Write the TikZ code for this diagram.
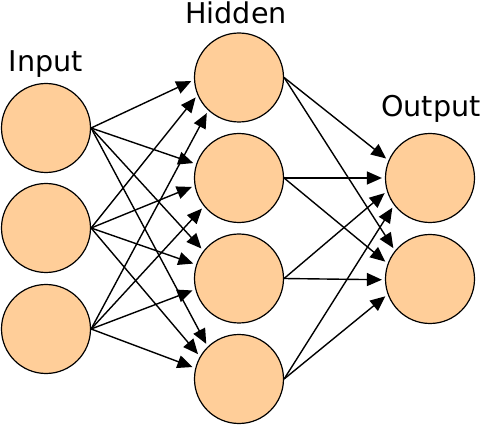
\documentclass[tikz,border=0pt]{standalone}
\usepackage{fontspec}
\setmainfont{DejaVu Sans}
\usepackage{xcolor}
\usepackage{tikz}
\usetikzlibrary{arrows.meta,positioning}
\definecolor{neuronFill}{RGB}{255,206,153}
\tikzset{
  neuron/.style={circle, draw=black, line width=1.2pt, fill=neuronFill, minimum size=89pt, inner sep=0pt},
  layerlabel/.style={anchor=base, font=\fontsize{28.6}{30}\selectfont},
  link/.style={-{Triangle[length=15pt,width=13pt]}, line width=1.4pt, shorten >=3pt}
}

\begin{document}
\begin{tikzpicture}[x=1pt,y=-1pt]
\useasboundingbox (0,0) rectangle (480,425);
% layers
\node[neuron] (in1) at (46,128) {};
\node[neuron] (in2) at (46,228) {};
\node[neuron] (in3) at (46,329) {};
\node[neuron] (hid1) at (239,77.5) {};
\node[neuron] (hid2) at (239,178) {};
\node[neuron] (hid3) at (239,278.5) {};
\node[neuron] (hid4) at (239,379) {};
\node[neuron] (out1) at (430,178) {};
\node[neuron] (out2) at (430,279) {};
% labels
\node[layerlabel] (inlabel) at (46,72) {Input};
\node[layerlabel] (hidlabel) at (236,24) {Hidden};
\node[layerlabel] (outlabel) at (431,117) {Output};
% input to hidden
\draw[link] (in1.east) -- (hid1.183);
\draw[link] (in1.east) -- (hid2.162);
\draw[link] (in1.east) -- (hid3.142);
\draw[link] (in1.east) -- (hid4.134);
\draw[link] (in2.east) -- (hid1.203);
\draw[link] (in2.east) -- (hid2.190);
\draw[link] (in2.east) -- (hid3.162);
\draw[link] (in2.east) -- (hid4.150);
\draw[link] (in3.east) -- (hid1.227);
\draw[link] (in3.east) -- (hid2.219);
\draw[link] (in3.east) -- (hid3.194);
\draw[link] (in3.east) -- (hid4.166);
% hidden to output
\draw[link] (hid1.east) -- (out1.157);
\draw[link] (hid1.east) -- (out2.141);
\draw[link] (hid2.east) -- (out1.180);
\draw[link] (hid2.east) -- (out2.160);
\draw[link] (hid3.east) -- (out1.197);
\draw[link] (hid3.east) -- (out2.181);
\draw[link] (hid4.east) -- (out1.217);
\draw[link] (hid4.east) -- (out2.200);
\end{tikzpicture}
\end{document}
